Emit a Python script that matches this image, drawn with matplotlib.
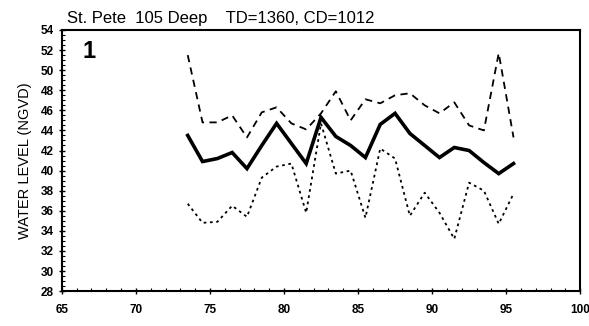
import numpy as np
import matplotlib
matplotlib.use('Agg')
import matplotlib.pyplot as plt
from matplotlib.ticker import MultipleLocator

# years (mid-year) and water levels
years = [73.5, 74.5, 75.5, 76.5, 77.5, 78.5, 79.5, 80.5, 81.5, 82.5, 83.5, 84.5,
         85.5, 86.5, 87.5, 88.5, 89.5, 90.5, 91.5, 92.5, 93.5, 94.5, 95.5]
mean_level = [43.5, 40.9, 41.2, 41.8, 40.2, 42.5, 44.7, 42.7, 40.7, 45.3, 43.4, 42.5,
              41.3, 44.6, 45.7, 43.7, 42.5, 41.3, 42.3, 42.0, 40.8, 39.7, 40.7]
max_level = [51.5, 44.8, 44.8, 45.5, 43.3, 45.8, 46.3, 44.7, 44.1, 45.7, 47.9, 45.0,
             47.1, 46.7, 47.5, 47.7, 46.5, 45.7, 46.8, 44.5, 44.0, 51.7, 43.3]
min_level = [36.7, 34.8, 34.9, 36.5, 35.4, 39.3, 40.4, 40.7, 35.8, 44.7, 39.7, 40.0,
             35.3, 42.2, 41.2, 35.5, 37.8, 35.8, 33.2, 38.8, 38.0, 34.7, 37.7]

plt.rcParams['font.family'] = ['Liberation Sans', 'DejaVu Sans']

fig = plt.figure(figsize=(5.89, 3.26), dpi=100)
ax = fig.add_axes([0.105, 0.107, 0.880, 0.801])

ax.plot(years, mean_level, color='black', lw=2.6, solid_joinstyle='miter')
ax.plot(years, max_level, color='black', lw=1.3, linestyle=(0, (4, 3)))
ax.plot(years, min_level, color='black', lw=1.3, linestyle=(0, (1.5, 2)))

ax.set_xlim(65, 100)
ax.set_ylim(28, 54)
ax.xaxis.set_major_locator(MultipleLocator(5))
ax.xaxis.set_minor_locator(MultipleLocator(1))
ax.yaxis.set_major_locator(MultipleLocator(2))
ax.yaxis.set_minor_locator(MultipleLocator(0.5))
ax.tick_params(which='major', direction='inout', length=5, width=1.0, labelsize=8.5)
ax.tick_params(which='minor', direction='in', length=2.5, width=0.8)
for lab in ax.get_xticklabels() + ax.get_yticklabels():
    lab.set_fontweight('bold')
ax.tick_params(axis='x', pad=7)

for s in ax.spines.values():
    s.set_linewidth(1.5)

ax.set_ylabel('WATER LEVEL (NGVD)', fontsize=10.5, labelpad=6)
ax.text(0.01, 1.015, 'St. Pete  105 Deep    TD=1360, CD=1012', transform=ax.transAxes,
        fontsize=12, ha='left', va='bottom')
ax.text(0.04, 0.96, '1', transform=ax.transAxes, fontsize=17, fontweight='bold',
        ha='left', va='top')

fig.savefig('out.png', dpi=100)
